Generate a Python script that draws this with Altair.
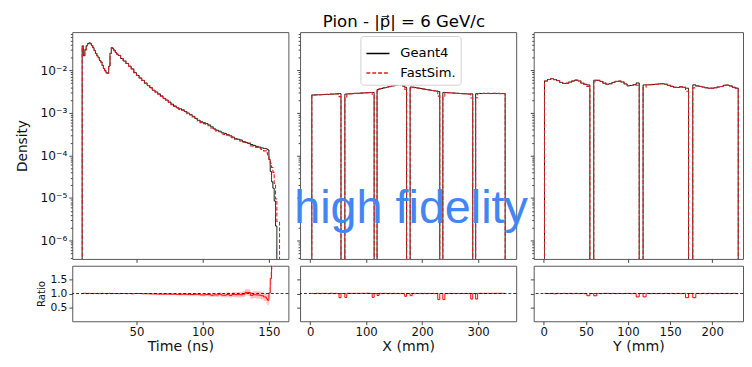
import altair as alt
import pandas as pd

# ---------------- data ----------------
# Time histogram: bin left edges (ns) and densities
time_edges = list(range(9, 36)) + list(range(36, 148, 2)) + list(range(148, 157))
time_right = 157
g4_time = [0.037, 0.022, 0.030, 0.038, 0.042, 0.044, 0.042, 0.038, 0.034, 0.029,
           0.025, 0.022, 0.020, 0.017, 0.0155, 0.013, 0.011, 0.0098, 0.0088, 0.0086,
           0.0125, 0.025, 0.034, 0.032, 0.029, 0.026, 0.024,
           0.0225, 0.019, 0.0165, 0.0145, 0.0125, 0.0108, 0.0088, 0.0076, 0.0066, 0.0058,
           0.0050, 0.0044, 0.0039, 0.0034, 0.0031, 0.0028, 0.0025, 0.0022, 0.0020, 0.0018,
           0.0016, 0.00145, 0.00132, 0.00125, 0.00118, 0.00108, 0.00099, 0.00092, 0.00083, 0.00074,
           0.00067, 0.00062, 0.00059, 0.00056, 0.00052, 0.00047, 0.00042, 0.00039, 0.00037, 0.00034,
           0.00033, 0.00031, 0.00029, 0.00027, 0.00025, 0.00024, 0.00023, 0.00021, 0.00020, 0.00019,
           0.00018, 0.000172, 0.000163, 0.000157, 0.000150, 0.000146,
           0.000142, 0.000135, 0.000080, 0.000042, 0.000024, 0.000017, 0.0000085, 0.0000022, 0.0]
fs_time = [0.037, 0.0222, 0.0302, 0.0378, 0.0422, 0.0442, 0.0419, 0.0381, 0.0338, 0.0291,
           0.0249, 0.0221, 0.0199, 0.0171, 0.0154, 0.0131, 0.0110, 0.0098, 0.0087, 0.0086,
           0.0126, 0.0249, 0.0341, 0.0319, 0.0290, 0.0259, 0.0240,
           0.0224, 0.0190, 0.0165, 0.0144, 0.0125, 0.0107, 0.0088, 0.0076, 0.0066, 0.00575,
           0.00497, 0.00437, 0.00385, 0.00335, 0.00305, 0.00274, 0.00245, 0.00215, 0.00196, 0.00176,
           0.00156, 0.00142, 0.00128, 0.00121, 0.00115, 0.00105, 0.00096, 0.00089, 0.00080, 0.00072,
           0.00065, 0.00059, 0.00056, 0.00054, 0.00050, 0.00044, 0.00040, 0.00037, 0.00036, 0.00032,
           0.00031, 0.00030, 0.00027, 0.00026, 0.00024, 0.00023, 0.00022, 0.000205, 0.000208, 0.000197,
           0.000168, 0.000165, 0.000155, 0.000148, 0.000138, 0.000128,
           0.000115, 0.000102, 0.000082, 0.000065, 0.000052, 0.000040, 0.000022, 0.0000095, 0.0000028]
time_err = [0.02, 0.02, 0.015, 0.012, 0.01, 0.01, 0.01, 0.01, 0.01, 0.01,
            0.01, 0.01, 0.01, 0.01, 0.01, 0.01, 0.012, 0.012, 0.012, 0.012,
            0.012, 0.01, 0.01, 0.01, 0.01, 0.01, 0.01,
            0.012, 0.012, 0.013, 0.013, 0.014, 0.015, 0.016, 0.017, 0.018, 0.019,
            0.02, 0.021, 0.022, 0.023, 0.024, 0.025, 0.026, 0.028, 0.029, 0.03,
            0.032, 0.033, 0.035, 0.036, 0.038, 0.04, 0.042, 0.044, 0.046, 0.048,
            0.05, 0.052, 0.055, 0.058, 0.06, 0.063, 0.066, 0.07, 0.073, 0.076,
            0.08, 0.083, 0.087, 0.09, 0.094, 0.098, 0.1, 0.105, 0.11, 0.115,
            0.12, 0.125, 0.13, 0.135, 0.14, 0.145,
            0.17, 0.18, 0.2, 0.24, 0.3, 0.35, 0.45, 0.6, 0.8]

# X histogram: six blocks (mm), 15 bins each, densities in units of 1e-3
x_starts = [3.0, 62.0, 119.5, 178.6, 237.0, 295.6]
x_ends = [55.1, 114.3, 172.3, 231.5, 290.4, 348.3]
x_g4 = [
    [2.63, 2.64, 2.65, 2.66, 2.67, 2.68, 2.70, 2.71, 2.72, 2.74, 2.75, 2.77, 2.79, 2.81, 2.84],
    [2.76, 2.78, 2.80, 2.82, 2.84, 2.86, 2.88, 2.90, 2.91, 2.93, 2.95, 2.96, 2.98, 3.00, 3.02],
    [3.52, 3.66, 3.74, 3.87, 3.93, 4.06, 4.13, 4.27, 4.33, 4.47, 4.58, 4.72, 4.62, 4.28, 3.98],
    [4.05, 4.00, 3.93, 3.86, 3.80, 3.74, 3.66, 3.60, 3.54, 3.47, 3.41, 3.35, 3.30, 3.24, 3.18],
    [3.02, 3.00, 2.98, 2.96, 2.94, 2.92, 2.90, 2.88, 2.86, 2.84, 2.82, 2.80, 2.78, 2.76, 2.80],
    [2.82, 2.84, 2.85, 2.84, 2.86, 2.85, 2.86, 2.84, 2.85, 2.86, 2.84, 2.85, 2.83, 2.84, 2.83],
]
x_fs = [
    [2.64, 2.63, 2.67, 2.68, 2.66, 2.70, 2.71, 2.73, 2.71, 2.76, 2.77, 2.76, 2.81, 2.80, 2.41],
    [2.37, 2.80, 2.82, 2.83, 2.86, 2.87, 2.90, 2.91, 2.93, 2.95, 2.96, 2.99, 3.00, 3.01, 2.60],
    [3.27, 3.68, 3.72, 3.89, 3.95, 4.04, 4.16, 4.25, 4.36, 4.45, 4.60, 4.70, 4.64, 4.26, 3.58],
    [3.73, 4.02, 3.91, 3.88, 3.79, 3.76, 3.64, 3.62, 3.52, 3.49, 3.40, 3.37, 3.28, 3.25, 2.48],
    [2.36, 3.01, 2.97, 2.97, 2.93, 2.93, 2.89, 2.89, 2.85, 2.85, 2.81, 2.81, 2.77, 2.77, 2.24],
    [2.26, 2.85, 2.87, 2.85, 2.88, 2.86, 2.88, 2.85, 2.87, 2.88, 2.86, 2.87, 2.85, 2.86, 2.84],
]

# Y histogram: four blocks (mm), 15 bins each, densities in units of 1e-3
y_starts = [0.8, 59.3, 117.9, 176.9]
y_ends = [54.7, 113.3, 171.9, 230.9]
y_g4 = [
    [5.60, 6.10, 6.35, 6.10, 5.70, 5.20, 4.90, 5.00, 5.30, 5.60, 5.85, 5.60, 5.00, 4.70, 4.55],
    [5.85, 5.80, 5.50, 5.00, 4.70, 4.85, 5.20, 5.50, 5.55, 5.30, 4.80, 4.35, 4.40, 4.60, 5.05],
    [4.55, 4.55, 4.60, 4.65, 4.70, 4.80, 4.85, 4.70, 4.45, 4.20, 4.00, 3.95, 4.10, 4.00, 3.80],
    [4.55, 4.30, 4.20, 4.05, 3.90, 3.80, 3.80, 3.90, 4.05, 4.15, 4.45, 4.50, 4.30, 4.00, 3.82],
]
y_fs = [
    [5.62, 6.08, 6.38, 6.05, 5.74, 5.18, 4.93, 4.98, 5.33, 5.57, 5.88, 5.58, 5.02, 4.68, 4.19],
    [5.38, 5.82, 5.48, 5.03, 4.72, 4.83, 5.22, 5.48, 5.57, 5.28, 4.82, 4.37, 4.38, 4.62, 4.44],
    [4.00, 4.57, 4.58, 4.67, 4.68, 4.82, 4.83, 4.72, 4.43, 4.22, 3.98, 3.97, 4.08, 4.02, 3.23],
    [3.87, 4.32, 4.18, 4.07, 3.88, 3.82, 3.78, 3.92, 4.03, 4.17, 4.43, 4.52, 4.28, 4.02, 3.80],
]
pos_err = 0.015  # ratio band half-width for X / Y

series = ["Geant4", "FastSim."]
time_ticks = [50, 100, 150]
x_ticks = [0, 100, 200, 300]
y_ticks_top = [0, 100, 200]
y_ticks_bottom = [0, 50, 100, 150, 200]

# ---------------- helpers ----------------
FLOOR = 1e-12
UNIT = 1e-3


def hist_rows(edges, right, vals, name):
    pts = [(edges[0], FLOOR)]
    pts += [(e, v if v > 0 else FLOOR) for e, v in zip(edges, vals)]
    pts.append((right, FLOOR))
    return pd.DataFrame([{"x": x, "y": y, "s": name, "i": k} for k, (x, y) in enumerate(pts)])


def block_rows(starts, ends, blocks, name):
    pts = []
    for s, e, vals in zip(starts, ends, blocks):
        w = (e - s) / len(vals)
        pts.append((s, FLOOR))
        pts += [(s + k * w, v * UNIT) for k, v in enumerate(vals)]
        pts.append((e, FLOOR))
    return pd.DataFrame([{"x": x, "y": y, "s": name, "i": k} for k, (x, y) in enumerate(pts)])


def block_ratio(starts, ends, g4b, fsb, err):
    pts = []
    n = len(starts)
    for j, (s, e, g, f) in enumerate(zip(starts, ends, g4b, fsb)):
        w = (e - s) / len(g)
        pts += [(s + k * w, fv / gv) for k, (gv, fv) in enumerate(zip(g, f))]
        pts.append((e, 1.0 if j < n - 1 else f[-1] / g[-1]))
    return pd.DataFrame([{"x": x, "r": r, "lo": r - err, "hi": r + err, "i": k}
                         for k, (x, r) in enumerate(pts)])


def time_ratio():
    pts = []
    last_right = None
    for k, (e, g, f, er) in enumerate(zip(time_edges, g4_time, fs_time, time_err)):
        if g > 0:
            r = f / g
            pts.append((e, r, er))
            last_right = time_edges[k + 1] if k + 1 < len(time_edges) else time_right
    pts.append((last_right, pts[-1][1], pts[-1][2]))
    return pd.DataFrame([{"x": x, "r": r, "lo": r - er, "hi": r + er, "i": k}
                         for k, (x, r, er) in enumerate(pts)])


# ---------------- styles ----------------
FONT = "DejaVu Sans"
RED = "#e41a1c"
TOP_H = 233
RAT_H = 57

color_scale = alt.Scale(domain=series, range=["black", RED])
dash_scale = alt.Scale(domain=series, range=[[1, 0], [4, 2]])
dens_scale = alt.Scale(type="log", domain=[3.7e-7, 0.079], nice=False)
ratio_scale = alt.Scale(domain=[0.0, 2.0], nice=False, zero=False)

log_ticks = [k * 10.0 ** d for d in range(-7, -1) for k in range(1, 10)
             if 3.7e-7 <= k * 10.0 ** d <= 0.079]
is_major = "abs(log(datum.value)/LN10 - round(log(datum.value)/LN10)) < 0.01"
label_expr = (is_major + " ? '10' + ['\u207b\u2076','\u207b\u2075','\u207b\u2074','\u207b\u00b3','\u207b\u00b2']"
              "[round(log(datum.value)/LN10)+6] : ''")
tick_cond = {"condition": {"test": is_major, "value": 3.5}, "value": 2.0}


def dens_axis(show):
    if show:
        return alt.Axis(values=log_ticks, labelExpr=label_expr, tickSize=tick_cond,
                        labelFontSize=12.5, labelPadding=2, labelOverlap=False,
                        title="Density", titleFontSize=14, titlePadding=11)
    return alt.Axis(values=log_ticks, labels=False, tickSize=tick_cond, title=None)


def ratio_axis(show):
    if show:
        return alt.Axis(values=[0.5, 1.0, 1.5], format=".1f", labelFontSize=11, tickSize=3.5,
                        labelPadding=2, title="Ratio", titleFontSize=10.5, titlePadding=3)
    return alt.Axis(values=[0.5, 1.0, 1.5], labels=False, tickSize=3.5, title=None)


def top_panel(g4_df, fs_df, xscale, xticks, width, show_y, legend=None, watermark=False):
    xax = alt.Axis(values=xticks, labels=False, title=None, tickSize=3.5)
    yax = dens_axis(show_y)
    layers = []
    for df, w in ((g4_df, 1.0), (fs_df, 1.1)):
        layers.append(
            alt.Chart(df).mark_line(interpolate="step-after", clip=True, strokeWidth=w).encode(
                x=alt.X("x:Q", scale=xscale, axis=xax),
                y=alt.Y("y:Q", scale=dens_scale, axis=yax),
                color=alt.Color("s:N", scale=color_scale, legend=legend),
                strokeDash=alt.StrokeDash("s:N", scale=dash_scale, legend=legend),
                order="i:Q",
            )
        )
    if watermark:
        layers.append(
            alt.Chart(pd.DataFrame({"t": ["high fidelity"]})).mark_text(
                font="Liberation Sans", fontSize=48, color="#4285F4", align="left",
                baseline="alphabetic").encode(
                x=alt.value(-6), y=alt.value(196), text="t:N")
        )
    return alt.layer(*layers).properties(width=width, height=TOP_H)


def ratio_panel(r_df, xscale, xticks, xtitle, width, show_y):
    xax = alt.Axis(values=xticks, labelFontSize=12, labelPadding=2, tickSize=3.5,
                   title=xtitle, titleFontSize=14.5, titlePadding=3)
    yax = ratio_axis(show_y)
    band = alt.Chart(r_df).mark_area(interpolate="step-after", clip=True,
                                     color="#ff9494", opacity=0.55).encode(
        x=alt.X("x:Q", scale=xscale, axis=xax),
        y=alt.Y("lo:Q", scale=ratio_scale, axis=yax),
        y2="hi:Q",
    )
    line = alt.Chart(r_df).mark_line(interpolate="step-after", clip=True,
                                     color="red", strokeWidth=1).encode(
        x=alt.X("x:Q", scale=xscale, axis=xax),
        y=alt.Y("r:Q", scale=ratio_scale, axis=yax),
        order="i:Q",
    )
    one = alt.Chart(pd.DataFrame({"v": [1.0]})).mark_rule(
        color="black", strokeDash=[3, 2], strokeWidth=0.8).encode(
        y=alt.Y("v:Q", scale=ratio_scale, axis=yax))
    return alt.layer(band, line, one).properties(width=width, height=RAT_H)


# ---------------- panels ----------------
t_scale = alt.Scale(domain=[1.5, 164.7], nice=False, zero=False)
x_scale = alt.Scale(domain=[-18.0, 368.0], nice=False, zero=False)
y_scale = alt.Scale(domain=[-12.0, 236.6], nice=False, zero=False)

legend = alt.Legend(orient="none", legendX=62, legendY=4, title=None, symbolType="stroke",
                    symbolSize=560, symbolStrokeWidth=1.5, labelFontSize=13.5, labelFont=FONT,
                    padding=5, strokeColor="#d0d0d0", fillColor="white", cornerRadius=3,
                    rowPadding=0, labelOffset=10)

res = dict(x="independent", y="independent", color="independent", strokeDash="independent")

col_t = alt.vconcat(
    top_panel(hist_rows(time_edges, time_right, g4_time, "Geant4"),
              hist_rows(time_edges, time_right + 1, fs_time, "FastSim."),
              t_scale, time_ticks, 222, True),
    ratio_panel(time_ratio(), t_scale, time_ticks, "Time (ns)", 222, True),
    spacing=7, bounds="flush",
).resolve_scale(**res)

col_x = alt.vconcat(
    top_panel(block_rows(x_starts, x_ends, x_g4, "Geant4"),
              block_rows(x_starts, x_ends, x_fs, "FastSim."),
              x_scale, x_ticks, 222, False, legend=legend, watermark=True),
    ratio_panel(block_ratio(x_starts, x_ends, x_g4, x_fs, pos_err), x_scale, x_ticks,
                "X (mm)", 222, False),
    spacing=7, bounds="flush",
).resolve_scale(**res)

col_y = alt.vconcat(
    top_panel(block_rows(y_starts, y_ends, y_g4, "Geant4"),
              block_rows(y_starts, y_ends, y_fs, "FastSim."),
              y_scale, y_ticks_top, 215, False),
    ratio_panel(block_ratio(y_starts, y_ends, y_g4, y_fs, pos_err), y_scale, y_ticks_bottom,
                "Y (mm)", 215, False),
    spacing=7, bounds="flush",
).resolve_scale(**res)

left_pair = alt.hconcat(col_t, col_x, spacing=4).resolve_scale(**res)

chart = alt.hconcat(left_pair, col_y, spacing=0).resolve_scale(**res).properties(
    title=alt.TitleParams("Pion - |p\u20d7| = 6 GeV/c", fontSize=17, font=FONT,
                          fontWeight="normal", anchor="middle", dx=25, offset=-3, color="black"),
    padding={"left": 7, "top": 0, "right": 0, "bottom": 0},
).configure(font=FONT).configure_view(
    stroke="#555", strokeWidth=1
).configure_axis(
    domain=False, grid=False, tickColor="#444", labelColor="#111", titleColor="#111",
    labelFont=FONT, titleFont=FONT, titleFontWeight="normal"
)

chart.save("out.html", embed_options={"renderer": "svg", "actions": False})
